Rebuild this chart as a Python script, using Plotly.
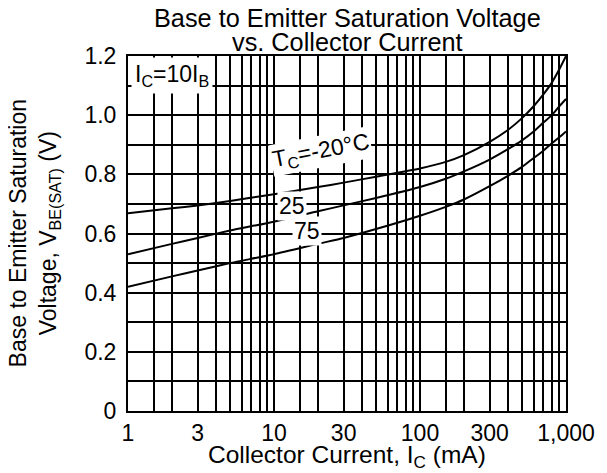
import math
import plotly.graph_objects as go

# Collector current (mA)
ic_ma = [1, 2, 3, 5, 10, 20, 30, 50, 100, 150, 200, 300, 400, 500, 600, 700, 800, 900, 1000]
# V_BE(SAT) (V) for each case temperature
vbe_m20 = [0.668, 0.685, 0.695, 0.71, 0.733, 0.757, 0.772, 0.792, 0.82, 0.842, 0.865, 0.91, 0.95, 0.99, 1.03, 1.07, 1.11, 1.155, 1.2]
vbe_25 = [0.53, 0.565, 0.585, 0.61, 0.64, 0.675, 0.695, 0.72, 0.757, 0.785, 0.81, 0.85, 0.885, 0.915, 0.945, 0.975, 1.0, 1.03, 1.055]
vbe_75 = [0.42, 0.455, 0.475, 0.50, 0.53, 0.565, 0.585, 0.615, 0.66, 0.69, 0.715, 0.76, 0.795, 0.825, 0.855, 0.88, 0.905, 0.925, 0.945]

x_grid_vals = [1, 1.5, 2, 3, 4, 5, 6, 7, 8, 9,
               10, 15, 20, 30, 40, 50, 60, 70, 80, 90,
               100, 150, 200, 300, 400, 500, 600, 700, 800, 900, 1000]
x_labels = {1: "1", 3: "3", 10: "10", 30: "30", 100: "100", 300: "300", 1000: "1,000"}
y_grid_vals = [0, 0.1, 0.2, 0.3, 0.4, 0.5, 0.6, 0.7, 0.8, 0.9, 1.0, 1.1, 1.2]
y_labels = {0: "0", 0.2: "0.2", 0.4: "0.4", 0.6: "0.6", 0.8: "0.8", 1.0: "1.0", 1.2: "1.2"}

FONT = "Arial, Liberation Sans, sans-serif"
fig = go.Figure()
for ys in (vbe_m20, vbe_25, vbe_75):
    fig.add_trace(go.Scatter(x=ic_ma, y=ys, mode="lines",
                             line=dict(color="black", width=2, shape="spline", smoothing=0.6),
                             showlegend=False, hoverinfo="skip"))

# page body has an 8px margin, so the figure is shifted by 8px
fig.update_layout(
    width=599, height=465,
    margin=dict(l=120, r=32, t=48, b=62),
    paper_bgcolor="white", plot_bgcolor="white",
    font=dict(family=FONT, size=23, color="black"),
    showlegend=False,
)
fig.update_xaxes(
    type="log", range=[0, 3],
    tickmode="array", tickvals=x_grid_vals,
    ticktext=[x_labels.get(v, "") for v in x_grid_vals],
    showgrid=True, gridcolor="black", gridwidth=1.6,
    showline=True, linecolor="black", linewidth=2, mirror=True,
    ticks="", ticklabelstandoff=0, tickfont=dict(size=23),
    zeroline=False,
)
fig.update_yaxes(
    range=[0, 1.2],
    tickmode="array", tickvals=y_grid_vals,
    ticktext=[y_labels.get(round(v, 1), "") for v in y_grid_vals],
    showgrid=True, gridcolor="black", gridwidth=1.6,
    showline=True, linecolor="black", linewidth=2, mirror=True,
    ticks="", ticklabelstandoff=5, tickfont=dict(size=23),
    zeroline=False,
)

ann = []
# Title (two lines)
ann.append(dict(text="Base to Emitter Saturation Voltage", xref="paper", yref="paper",
                x=0.5, y=1.108, xanchor="center", yanchor="middle", showarrow=False,
                font=dict(size=25.3)))
ann.append(dict(text="vs. Collector Current", xref="paper", yref="paper",
                x=0.5, y=1.039, xanchor="center", yanchor="middle", showarrow=False,
                font=dict(size=25.3)))
# Axis titles
ann.append(dict(text="Collector Current, I<sub>C</sub> (mA)", xref="paper", yref="paper",
                x=0.5, y=-0.128, xanchor="center", yanchor="middle", showarrow=False,
                font=dict(size=24.5)))
ann.append(dict(text="Base to Emitter Saturation<br>Voltage, V<sub>BE(SAT)</sub> (V)",
                xref="paper", yref="paper", x=-0.2125, y=0.5, xanchor="center", yanchor="middle",
                textangle=-90, showarrow=False, font=dict(size=23)))
# Condition label box
ann.append(dict(text="I<sub>C</sub>=10I<sub>B</sub>", xref="paper", yref="paper",
                x=0.007, y=0.997, xanchor="left", yanchor="top", showarrow=False,
                bgcolor="white", borderpad=3, font=dict(size=23)))
# Curve labels
ann.append(dict(text="T<sub>C</sub>=-20°C", xref="x", yref="y",
                x=math.log10(21), y=0.876, showarrow=False, textangle=-11,
                bgcolor="white", borderpad=1, font=dict(size=23)))
ann.append(dict(text="25", xref="x", yref="y", x=math.log10(13.3), y=0.693,
                showarrow=False, bgcolor="white", borderpad=1, font=dict(size=23)))
ann.append(dict(text="75", xref="x", yref="y", x=math.log10(16.8), y=0.609,
                showarrow=False, bgcolor="white", borderpad=1, font=dict(size=23)))
fig.update_layout(annotations=ann)

fig.write_html("out.html")
